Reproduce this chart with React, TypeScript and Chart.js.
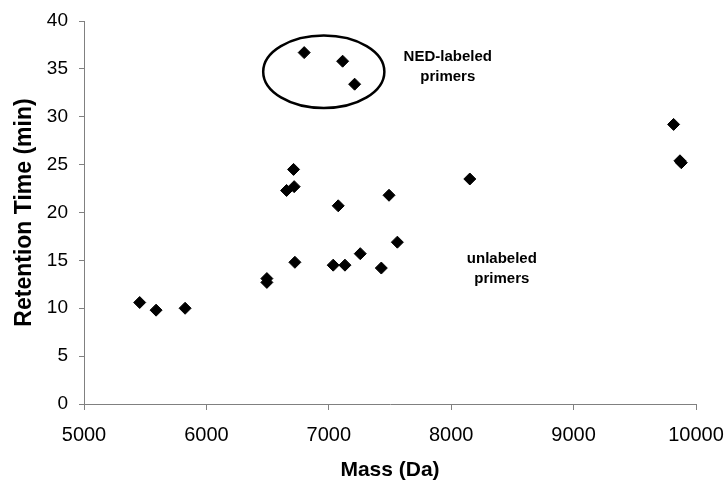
import React, { useEffect, useRef } from "react";
import { Chart, registerables } from "chart.js";

Chart.register(...registerables);

// Unlabeled primers: mass (Da) and retention time (min)
const unlabeledMass = [5455, 5589, 5826, 6494, 6494, 6655, 6717, 6712, 6723, 7036, 7132, 7077, 7257, 7429, 7492, 7560, 8152, 9817, 9869, 9880];
const unlabeledTime = [10.6, 9.8, 10.0, 13.1, 12.7, 22.3, 22.7, 24.5, 14.8, 14.5, 14.5, 20.7, 15.7, 14.2, 21.8, 16.9, 23.5, 29.2, 25.4, 25.2];

// NED-labeled primers
const nedMass = [6799, 7113, 7211];
const nedTime = [36.7, 35.8, 33.4];

// Axis ranges and ticks
const xMin = 5000;
const xMax = 10000;
const xStep = 1000;
const yMin = 0;
const yMax = 40;
const yStep = 5;

// Annotations (data coordinates)
const ellipseCenter = { x: 6959, y: 34.7 };
const ellipseRadius = { x: 495, y: 3.79 };
const nedLabel = { x: 7972, y: 35.2, lines: ["NED-labeled", "primers"] };
const unlabeledLabel = { x: 8414, y: 14.13, lines: ["unlabeled", "primers"] };

const FONT = "'Liberation Sans', Arial, Helvetica, sans-serif";

const annotationPlugin = {
  id: "primerAnnotations",
  afterDatasetsDraw(chart: any) {
    const { ctx, scales } = chart;
    const xs = scales.x;
    const ys = scales.y;
    ctx.save();
    // ellipse
    const cx = xs.getPixelForValue(ellipseCenter.x);
    const cy = ys.getPixelForValue(ellipseCenter.y);
    const rx = Math.abs(xs.getPixelForValue(ellipseCenter.x + ellipseRadius.x) - cx);
    const ry = Math.abs(ys.getPixelForValue(ellipseCenter.y + ellipseRadius.y) - cy);
    ctx.beginPath();
    ctx.ellipse(cx, cy, rx, ry, 0, 0, Math.PI * 2);
    ctx.lineWidth = 2.5;
    ctx.strokeStyle = "#000";
    ctx.stroke();
    // labels
    ctx.fillStyle = "#000";
    ctx.font = `bold 15px ${FONT}`;
    ctx.textAlign = "center";
    ctx.textBaseline = "middle";
    const lineGap = 19.5;
    [nedLabel, unlabeledLabel].forEach((lab) => {
      const px = xs.getPixelForValue(lab.x);
      const py = ys.getPixelForValue(lab.y);
      const n = lab.lines.length;
      lab.lines.forEach((t, i) => {
        ctx.fillText(t, px, py + (i - (n - 1) / 2) * lineGap);
      });
    });
    ctx.restore();
  },
};

export default function App() {
  const ref = useRef<HTMLCanvasElement | null>(null);

  useEffect(() => {
    if (!ref.current) return;
    const toPts = (xs: number[], ys: number[]) => xs.map((x, i) => ({ x, y: ys[i] }));
    const chart = new Chart(ref.current, {
      type: "scatter",
      data: {
        datasets: [
          {
            label: "unlabeled primers",
            data: toPts(unlabeledMass, unlabeledTime),
            pointStyle: "rectRot",
            pointRadius: 6,
            backgroundColor: "#000",
            borderColor: "#000",
            borderWidth: 1,
          },
          {
            label: "NED-labeled primers",
            data: toPts(nedMass, nedTime),
            pointStyle: "rectRot",
            pointRadius: 6,
            backgroundColor: "#000",
            borderColor: "#000",
            borderWidth: 1,
          },
        ],
      },
      options: {
        animation: false,
        responsive: true,
        maintainAspectRatio: false,
        layout: { padding: { top: 21, right: 32, left: 0, bottom: 0 } },
        plugins: {
          legend: { display: false },
          tooltip: { enabled: false },
        },
        scales: {
          x: {
            type: "linear",
            min: xMin,
            max: xMax,
            ticks: {
              stepSize: xStep,
              color: "#000",
              font: { family: FONT, size: 20 },
              padding: 13,
              maxRotation: 0,
              callback: (v: any) => String(v),
            },
            grid: {
              display: true,
              drawOnChartArea: false,
              drawTicks: true,
              tickLength: 6,
              color: "#808080",
            },
            border: { display: true, color: "#808080", width: 1 },
            title: {
              display: true,
              text: "Mass (Da)",
              color: "#000",
              font: { family: FONT, size: 21, weight: "bold" },
              padding: { top: 0, bottom: 1 },
            },
            afterFit: (scale: any) => {
              scale.height = 80;
              scale.paddingLeft = 0;
              scale.paddingRight = 0;
            },
          },
          y: {
            type: "linear",
            min: yMin,
            max: yMax,
            ticks: {
              stepSize: yStep,
              color: "#000",
              font: { family: FONT, size: 19 },
              padding: 11,
            },
            grid: {
              display: true,
              drawOnChartArea: false,
              drawTicks: true,
              tickLength: 5,
              color: "#808080",
            },
            border: { display: true, color: "#808080", width: 1 },
            title: {
              display: true,
              text: "Retention Time (min)",
              color: "#000",
              font: { family: FONT, size: 23, weight: "bold" },
              padding: { top: 11, bottom: 0 },
            },
            afterFit: (scale: any) => {
              scale.width = 84;
              scale.paddingTop = 0;
              scale.paddingBottom = 0;
            },
          },
        },
      },
      plugins: [annotationPlugin],
    } as any);
    return () => chart.destroy();
  }, []);

  return (
    <div style={{ position: "absolute", left: 0, top: 0, width: 728, height: 484, background: "#fff" }}>
      <canvas ref={ref} />
    </div>
  );
}
